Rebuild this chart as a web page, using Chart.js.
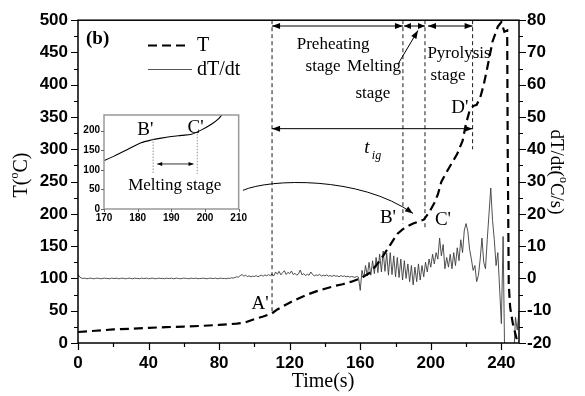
<!DOCTYPE html>
<html>
<head>
<meta charset="utf-8">
<script src="https://cdn.jsdelivr.net/npm/chart.js@4.4.1/dist/chart.umd.min.js"></script>
<style>
  body { margin: 0; background: #fff; }
  #wrap { position: relative; width: 585px; height: 396px; }
  #main { position: absolute; left: 0; top: 0; }
  #inset { position: absolute; left: 70px; top: 105px; }
</style>
</head>
<body>
<div id="wrap">
  <canvas id="main" width="585" height="396"></canvas>
  <canvas id="inset" width="180" height="122"></canvas>
</div>
<script>
// temperature T (°C) against time (s)
const tempTime = [0, 10, 20, 30, 40, 50, 60, 70, 80, 90, 95, 100, 105, 110, 113, 117, 121, 125, 130, 135,
  140, 145, 150, 155, 160, 165, 169, 173, 177, 181, 184, 187, 190, 193, 196, 199, 202, 204, 206, 209,
  212, 215, 218, 220, 222, 224, 226, 228, 230, 232, 235, 238, 240, 241.7, 243.3, 243.6, 244.2, 245, 246.5, 248.5, 250];
const tempValue = [17, 19, 21, 22, 23.5, 24.5, 25.5, 26.5, 28, 30, 32, 37, 41, 46, 52, 58, 64, 69, 75, 80,
  84, 88, 91, 95, 100, 108, 120, 135, 152, 169, 176, 181, 185, 188, 191, 202, 217, 230, 250, 265,
  279, 293, 313, 340, 360, 367, 369, 380, 400, 426, 467, 490, 497, 482, 484, 300, 90, 55, 30, 8, 0];

// dT/dt (°C/s), one reading per second from t = 0
const rateStep = 1;
const rateValue = [
  1.3, 0.4, 0.1, 0, 0.1, -0.1, 0, 0.1, 0, -0.1,
  0, 0.1, 0, -0.1, 0, 0.1, 0, 0, -0.1, 0.1,
  0, 0, 0.1, -0.1, 0, 0.1, 0, -0.1, 0, 0.1,
  0, -0.1, 0.1, 0, 0, -0.1, 0.1, 0, 0, 0.1,
  -0.1, 0, 0.1, 0, -0.1, 0, 0.1, 0, 0, -0.1,
  0.1, 0, 0, 0.1, -0.1, 0, 0.1, 0, -0.1, 0,
  0.1, 0, 0, -0.1, 0.1, 0, 0, 0.1, -0.1, 0,
  0, 0.1, 0, -0.1, 0, 0.1, 0, 0, 0.1, -0.1,
  0, 0.1, 0, 0, -0.1, 0.1, 0, 0.2, 0.1, 0.3,
  0.5, 0.4, 0.9, 1.2, 0.7, 1.0, 0.6, 0.8, 0.5, 0.7,
  0.6, 0.9, 0.5, 0.8, 1.0, 0.7, 1.1, 0.8, 1.2, 0.9,
  1.4, 0.8, 2.0, 1.3, 2.2, 1.1, 1.8, 2.4, 1.2, 1.9,
  1.5, 2.3, 1.2, 1.6, 1.0, 1.4, 2.6, 1.1, 1.5, 0.9,
  1.3, 1.0, 2.0, 1.2, 0.8, 1.1, 0.9, 1.3, 0.7, 1.0,
  0.8, 1.1, 0.7, 0.9, 0.6, 1.0, 0.7, 0.8, 0.5, 0.9,
  0.6, 0.8, 0.5, 0.7, 0.4, 0.6, 0.5, 0.3, 0.6, 0.4,
  -3.7,
  2.5, 0.2, 4.0, 0.8, 5.0, 1.0, 5.5, 1.5, 6.5, 1.8,
  7.5, 2.0, 8.5, 2.2, 7.8, 1.0, 8.0, 1.2, 7.0, 0.5,
  6.5, 0.3, 6.0, -0.5, 5.5, 0.0, 4.5, -1.0, 4.0, -2.0,
  3.5, -1.0, 4.5, -0.5, 4.0, 0.5, 5.0, 2.0, 6.0, 3.5,
  7.5, 4.5, 8.0, 6.0, 12.5, 7.0, 10.5, 3.0, 6.5, 3.5,
  7.5, 3.0, 8.0, 4.0, 9.5, 5.5, 12.0, 8.0, 15.0, 17.0,
  14.5, 9.0, 6.0, 2.5, 4.0, -1.0, 1.0, 6.0, 12.5, 5.0,
  3.0, 12.0, 20.0, 28.0, 18.0, 12.0, 4.0, 8.0, -3.0, -14.0,
  13.0, -30, -30, -30, -30, -30, -25, -12, -16, -10
];

// stage boundaries (s) and the temperature where each dashed marker stops
const stageTime = [110, 184.2, 196.7, 223.7];
const stageLow = [46, 185, 177, 300];

const serif = "'Liberation Serif', 'Times New Roman', serif";
const sans = "'Liberation Sans', Arial, sans-serif";

const tempPoints = tempTime.map((t, i) => ({ x: t, y: tempValue[i] }));
const ratePoints = rateValue.map((v, i) => ({ x: i * rateStep, y: v }));

function head(ctx, x, y, ang, len, half) {
  len = len || 8; half = half || 3;
  const c = Math.cos(ang), s = Math.sin(ang);
  ctx.beginPath();
  ctx.moveTo(x, y);
  ctx.lineTo(x - len * c + half * s, y - len * s - half * c);
  ctx.lineTo(x - len * c - half * s, y - len * s + half * c);
  ctx.closePath();
  ctx.fill();
}

function dblArrow(ctx, x1, x2, y, len, half) {
  ctx.beginPath();
  ctx.moveTo(x1, y);
  ctx.lineTo(x2, y);
  ctx.stroke();
  head(ctx, x2, y, 0, len, half);
  head(ctx, x1, y, Math.PI, len, half);
}

function text(ctx, str, x, y, font) {
  ctx.font = font;
  ctx.textAlign = 'center';
  ctx.textBaseline = 'middle';
  ctx.fillText(str, x, y);
}

// draws pieces of text side by side, centred on (cx, cy)
function parts(ctx, list, cx, cy) {
  let total = 0;
  list.forEach(p => { ctx.font = p.font; p.w = ctx.measureText(p.text).width; total += p.w; });
  let x = cx - total / 2;
  ctx.textAlign = 'left';
  ctx.textBaseline = 'middle';
  list.forEach(p => { ctx.font = p.font; ctx.fillText(p.text, x, cy + (p.dy || 0)); x += p.w; });
}

const decor = {
  id: 'decor',
  afterDatasetsDraw(chart) {
    const { ctx, chartArea: a, scales } = chart;
    const X = v => scales.x.getPixelForValue(v);
    const Y = v => scales.y.getPixelForValue(v);
    ctx.save();
    ctx.fillStyle = '#000';
    ctx.strokeStyle = '#000';

    // dashed stage markers
    ctx.lineWidth = 0.9;
    ctx.setLineDash([4, 3]);
    stageTime.forEach((t, i) => {
      ctx.beginPath();
      ctx.moveTo(X(t), a.top);
      ctx.lineTo(X(t), Y(stageLow[i]));
      ctx.stroke();
    });
    ctx.setLineDash([]);

    // stage arrows along the top
    ctx.lineWidth = 1;
    const yTop = Y(491);
    dblArrow(ctx, X(stageTime[0]), X(stageTime[1]), yTop);
    dblArrow(ctx, X(stageTime[1]) + 1, X(stageTime[2]), yTop, 7, 3);
    dblArrow(ctx, X(stageTime[2]) + 3, X(stageTime[3]), yTop);
    // ignition time arrow
    dblArrow(ctx, X(stageTime[0]), X(stageTime[3]), Y(332));

    // pointer to the melting stage arrow
    ctx.beginPath();
    ctx.moveTo(X(181.4), Y(432));
    ctx.lineTo(X(192.7), Y(484));
    ctx.stroke();
    head(ctx, X(192.7), Y(484), Math.atan2(Y(484) - Y(432), X(192.7) - X(181.4)), 8, 3);

    // curved arrow from the inset to the melting plateau
    const p0 = [X(93.5), Y(236.5)], c1 = [X(108.8), Y(254.6)], c2 = [X(159.8), Y(259.3)], p3 = [X(189.9), Y(200.6)];
    ctx.lineWidth = 1;
    ctx.beginPath();
    ctx.moveTo(p0[0], p0[1]);
    ctx.bezierCurveTo(c1[0], c1[1], c2[0], c2[1], p3[0], p3[1]);
    ctx.stroke();
    head(ctx, p3[0], p3[1], Math.atan2(p3[1] - c2[1], p3[0] - c2[0]), 8, 3);

    // labels
    const f17 = '17px ' + serif;
    const f19 = '19px ' + serif;
    text(ctx, 'Preheating', X(144.6), Y(463), f17);
    text(ctx, 'stage', X(138.9), Y(429), f17);
    text(ctx, 'Melting', X(167.8), Y(429), f17);
    text(ctx, 'stage', X(167.2), Y(387), f17);
    text(ctx, 'Pyrolysis', X(216), Y(449), f17);
    text(ctx, 'stage', X(209.8), Y(415), f17);
    text(ctx, 't', X(163.8), Y(302), 'italic 19px ' + serif);
    text(ctx, 'ig', X(169.2), Y(290), 'italic 12px ' + serif);
    text(ctx, "A'", X(103.2), Y(60), f19);
    text(ctx, "B'", X(175.7), Y(194), f19);
    text(ctx, "C'", X(206.9), Y(190), f19);
    text(ctx, "D'", X(216.5), Y(364), f19);
    ctx.restore();
  },
  afterDraw(chart) {
    const { ctx, chartArea: a, scales } = chart;
    ctx.save();
    ctx.strokeStyle = '#000';
    ctx.fillStyle = '#000';
    ctx.lineWidth = 1.5;
    ctx.strokeRect(a.left, a.top, a.right - a.left, a.bottom - a.top);

    // outward tick marks, major and minor
    ctx.lineWidth = 1.2;
    ctx.beginPath();
    for (let v = 0; v <= 500; v += 25) {
      const py = Math.round(scales.y.getPixelForValue(v)) + 0.5;
      ctx.moveTo(a.left, py);
      ctx.lineTo(a.left - (v % 50 === 0 ? 7 : 4), py);
    }
    for (let v = -20; v <= 80; v += 5) {
      const py = Math.round(scales.y1.getPixelForValue(v)) + 0.5;
      ctx.moveTo(a.right, py);
      ctx.lineTo(a.right + (v % 10 === 0 ? 7 : 4), py);
    }
    for (let v = 0; v <= 240; v += 20) {
      const px = Math.round(scales.x.getPixelForValue(v)) + 0.5;
      ctx.moveTo(px, a.bottom);
      ctx.lineTo(px, a.bottom + (v % 40 === 0 ? 7 : 4));
    }
    ctx.stroke();

    // axis titles
    parts(ctx, [{ text: 'Time(s)', font: '20px ' + serif }], 323, 382);
    ctx.save();
    ctx.translate(22, 175);
    ctx.rotate(-Math.PI / 2);
    parts(ctx, [
      { text: 'T(', font: '20px ' + serif },
      { text: 'o', font: '12px ' + serif, dy: -7 },
      { text: 'C)', font: '20px ' + serif }
    ], 0, 0);
    ctx.restore();
    ctx.save();
    ctx.translate(556, 172);
    ctx.rotate(Math.PI / 2);
    parts(ctx, [
      { text: 'dT/dt(', font: '19px ' + serif },
      { text: 'o', font: '12px ' + serif, dy: -7 },
      { text: 'C/s)', font: '19px ' + serif }
    ], 0, 0);
    ctx.restore();

    // panel letter and legend
    ctx.textAlign = 'left';
    ctx.textBaseline = 'middle';
    ctx.font = 'bold 19px ' + serif;
    ctx.fillText('(b)', 86, 39);
    ctx.lineWidth = 2.2;
    ctx.setLineDash([9, 5]);
    ctx.beginPath();
    ctx.moveTo(148, 45.5);
    ctx.lineTo(189, 45.5);
    ctx.stroke();
    ctx.setLineDash([]);
    ctx.strokeStyle = '#555';
    ctx.lineWidth = 1;
    ctx.beginPath();
    ctx.moveTo(148, 69.5);
    ctx.lineTo(192, 69.5);
    ctx.stroke();
    ctx.font = '20px ' + serif;
    ctx.fillText('T', 197, 46);
    ctx.fillText('dT/dt', 197, 70);
    ctx.restore();
  }
};

const tickFont = { family: sans, size: 17, weight: 'bold' };
const noGrid = { display: false, drawTicks: false, tickLength: 0 };

new Chart(document.getElementById('main'), {
  type: 'line',
  data: {
    datasets: [
      {
        label: 'T',
        data: tempPoints,
        yAxisID: 'y',
        borderColor: '#000',
        borderWidth: 2.2,
        borderDash: [9, 5],
        pointRadius: 0,
        tension: 0
      },
      {
        label: 'dT/dt',
        data: ratePoints,
        yAxisID: 'y1',
        borderColor: '#3c3c3c',
        borderWidth: 0.9,
        pointRadius: 0,
        tension: 0
      }
    ]
  },
  options: {
    responsive: false,
    animation: false,
    layout: { padding: { top: 19, left: 0, right: 0, bottom: 0 } },
    plugins: { legend: { display: false }, tooltip: { enabled: false } },
    scales: {
      x: {
        type: 'linear', min: 0, max: 250,
        ticks: { stepSize: 40, includeBounds: false, padding: 10, color: '#000', font: tickFont, maxRotation: 0 },
        grid: noGrid,
        border: { display: false },
        afterFit: s => { s.height = 53; }
      },
      y: {
        position: 'left', min: 0, max: 500,
        ticks: { stepSize: 50, padding: 10, color: '#000', font: tickFont },
        grid: noGrid,
        border: { display: false },
        afterFit: s => { s.width = 78; }
      },
      y1: {
        position: 'right', min: -20, max: 80,
        ticks: { stepSize: 10, padding: 8, color: '#000', font: tickFont },
        grid: noGrid,
        border: { display: false },
        afterFit: s => { s.width = 66; }
      }
    }
  },
  plugins: [decor]
});

// inset: close-up of the melting plateau
const insetDecor = {
  id: 'insetDecor',
  beforeDatasetsDraw(chart) {
    const { ctx, chartArea: a } = chart;
    ctx.save();
    ctx.fillStyle = '#fff';
    ctx.fillRect(a.left, a.top, a.right - a.left, a.bottom - a.top);
    ctx.restore();
  },
  afterDraw(chart) {
    const { ctx, chartArea: a, scales } = chart;
    const X = v => scales.x.getPixelForValue(v);
    const Y = v => scales.y.getPixelForValue(v);
    ctx.save();
    ctx.strokeStyle = '#999';
    ctx.lineWidth = 1.5;
    ctx.strokeRect(a.left, a.top, a.right - a.left, a.bottom - a.top);
    ctx.strokeStyle = '#666';
    ctx.lineWidth = 1;
    ctx.beginPath();
    for (let v = 0; v <= 200; v += 50) {
      const py = Math.round(Y(v)) + 0.5;
      ctx.moveTo(a.left, py);
      ctx.lineTo(a.left - 3, py);
    }
    for (let v = 170; v <= 210; v += 10) {
      const px = Math.round(X(v)) + 0.5;
      ctx.moveTo(px, a.bottom);
      ctx.lineTo(px, a.bottom + 3);
    }
    ctx.stroke();

    ctx.strokeStyle = '#777';
    ctx.lineWidth = 0.8;
    ctx.setLineDash([1.5, 1.5]);
    [[184.6, 180], [197.7, 192]].forEach(([t, top]) => {
      ctx.beginPath();
      ctx.moveTo(X(t), Y(top));
      ctx.lineTo(X(t), Y(90));
      ctx.stroke();
    });
    ctx.setLineDash([]);
    ctx.strokeStyle = '#000';
    ctx.fillStyle = '#000';
    ctx.lineWidth = 0.8;
    dblArrow(ctx, X(185.8), X(196.6), Y(115), 5, 2);

    text(ctx, 'Melting stage', X(191), Y(60), '17px ' + serif);
    text(ctx, "B'", X(182.3), Y(202), '19px ' + serif);
    text(ctx, "C'", X(197.2), Y(207), '19px ' + serif);
    ctx.restore();
  }
};

const insetFont = { family: sans, size: 10, weight: 'bold' };

new Chart(document.getElementById('inset'), {
  type: 'line',
  data: {
    datasets: [{
      data: tempPoints,
      borderColor: '#000',
      borderWidth: 1.1,
      pointRadius: 0,
      tension: 0.3
    }]
  },
  options: {
    responsive: false,
    animation: false,
    layout: { padding: { top: 8, right: 9 } },
    plugins: { legend: { display: false }, tooltip: { enabled: false } },
    scales: {
      x: {
        type: 'linear', min: 170, max: 210,
        ticks: { stepSize: 10, padding: 3, color: '#000', font: insetFont, maxRotation: 0 },
        grid: noGrid,
        border: { display: false },
        afterFit: s => { s.height = 18; }
      },
      y: {
        min: 0, max: 240,
        ticks: { stepSize: 50, includeBounds: false, padding: 4, color: '#000', font: insetFont },
        grid: noGrid,
        border: { display: false },
        afterFit: s => { s.width = 34; }
      }
    }
  },
  plugins: [insetDecor]
});
</script>
</body>
</html>
